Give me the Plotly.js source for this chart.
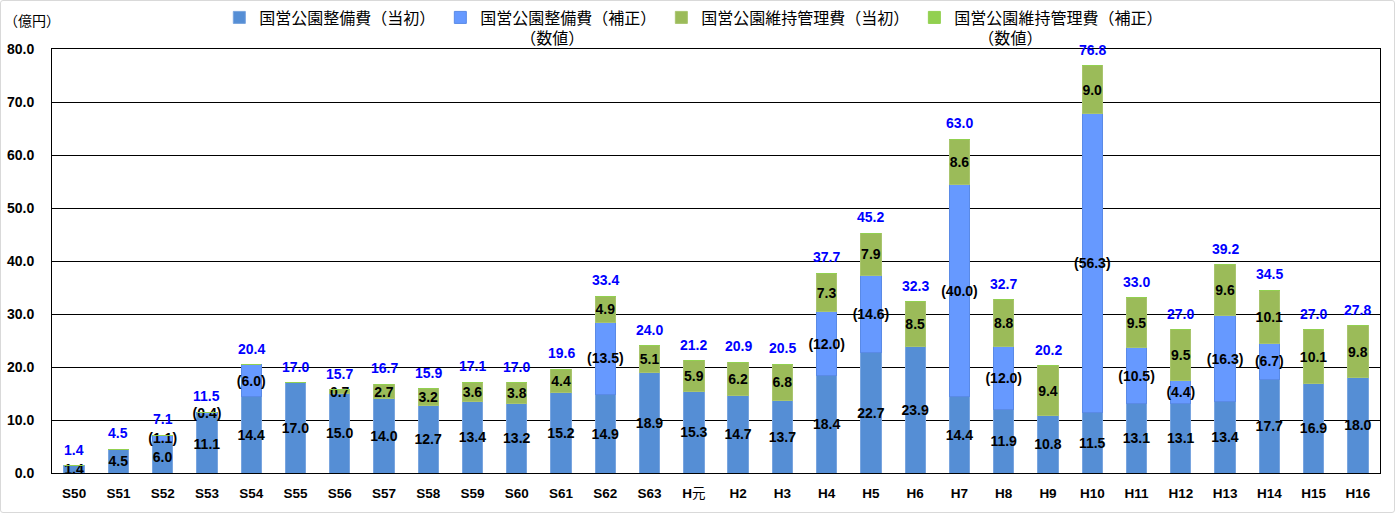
<!DOCTYPE html>
<html><head><meta charset="utf-8">
<script src="https://cdn.plot.ly/plotly-3.0.1.min.js"></script>
<style>
html,body{margin:0;padding:0;background:#fff}
#wrap{position:relative;width:1395px;height:513px}
#chart{width:1395px;height:513px}
#frame{position:absolute;left:0;top:0;width:1393px;height:511px;border:1px solid #d9d9d9;border-radius:3px;pointer-events:none}
</style>
</head><body><div id="wrap"><div id="chart"></div><div id="frame"></div></div>
<script>
const categories = ['S50','S51','S52','S53','S54','S55','S56','S57','S58','S59','S60','S61','S62','S63','H元','H2','H3','H4','H5','H6','H7','H8','H9','H10','H11','H12','H13','H14','H15','H16'];
const tickLabels = ['S50','S51','S52','S53','S54','S55','S56','S57','S58','S59','S60','S61','S62','S63','H<span style="font-weight:normal;font-family:Noto Sans CJK JP">元</span>','H2','H3','H4','H5','H6','H7','H8','H9','H10','H11','H12','H13','H14','H15','H16'];
const seibiInitial = [1.4,4.5,6.0,11.1,14.4,17.0,15.0,14.0,12.7,13.4,13.2,15.2,14.9,18.9,15.3,14.7,13.7,18.4,22.7,23.9,14.4,11.9,10.8,11.5,13.1,13.1,13.4,17.7,16.9,18.0];
const seibiSupplement = [0,0,1.1,0.4,6.0,0,0,0,0,0,0,0,13.5,0,0,0,0,12.0,14.6,0,40.0,12.0,0,56.3,10.5,4.4,16.3,6.7,0,0];
const ijiInitial = [0,0,0,0,0,0,0.7,2.7,3.2,3.6,3.8,4.4,4.9,5.1,5.9,6.2,6.8,7.3,7.9,8.5,8.6,8.8,9.4,9.0,9.5,9.5,9.6,10.1,10.1,9.8];
const ijiSupplement = [0,0,0,0,0,0,0,0,0,0,0,0,0,0,0,0,0,0,0,0,0,0,0,0,0,0,0,0,0,0];
const totals = [1.4,4.5,7.1,11.5,20.4,17.0,15.7,16.7,15.9,17.1,17.0,19.6,33.4,24.0,21.2,20.9,20.5,37.7,45.2,32.3,63.0,32.7,20.2,76.8,33.0,27.0,39.2,34.5,27.0,27.8];
const seriesNames = ['国営公園整備費（当初）','国営公園整備費（補正）<br>　　　（数値）','国営公園維持管理費（当初）','国営公園維持管理費（補正）<br>　　（数値）'];
const unitLabel = '（億円）';

const numFont = 'Liberation Sans, Arial, sans-serif';
const lblFont = {family: numFont, size: 14, color: '#000', weight: 'bold'};

function mk(vals, name, color, lineColor, fmt) {
  return {
    type: 'bar', x: categories, y: vals, name: name,
    marker: {color: color, line: {color: lineColor, width: 1}},
    text: vals.map(v => v > 0 ? fmt(v) : ''),
    texttemplate: '%{text}',
    textposition: 'inside', insidetextanchor: 'middle', textangle: 0,
    constraintext: 'none', cliponaxis: false,
    textfont: lblFont, insidetextfont: lblFont,
    hoverinfo: 'x+y'
  };
}
const data = [
  mk(seibiInitial, seriesNames[0], '#558ed5', '#79a5df', v => v.toFixed(1)),
  mk(seibiSupplement, seriesNames[1], '#6699ff', '#5a8ae6', v => '(' + v.toFixed(1) + ')'),
  mk(ijiInitial, seriesNames[2], '#9bbb59', '#a9c56e', v => v.toFixed(1)),
  mk(ijiSupplement, seriesNames[3], '#92d050', '#92d050', v => v.toFixed(1))
];

const annotations = categories.map((c, i) => ({
  x: c, y: totals[i], xref: 'x', yref: 'y', text: totals[i].toFixed(1),
  showarrow: false, yanchor: 'bottom', yshift: 6,
  font: {family: numFont, size: 14, color: '#0000ff', weight: 'bold'}
}));
annotations.push({
  xref: 'paper', yref: 'paper', x: -0.0376, y: 1.069, xanchor: 'left', yanchor: 'middle',
  text: unitLabel, showarrow: false,
  font: {family: 'Noto Sans CJK JP', size: 14, color: '#000'}
});

const layout = {
  width: 1395, height: 513,
  margin: {l: 52, r: 15, t: 49, b: 40, pad: 0, autoexpand: false},
  paper_bgcolor: '#fff', plot_bgcolor: '#fff',
  barmode: 'stack', bargap: 0.54,
  showlegend: true,
  legend: {orientation: 'h', x: 0.126, xanchor: 'left', yref: 'container', y: 0.999, yanchor: 'top',
    traceorder: 'normal', valign: 'top', bgcolor: 'rgba(0,0,0,0)',
    font: {family: 'Noto Sans CJK JP', size: 16, color: '#000'}},
  uniformtext: {minsize: 14, mode: 'show'},
  xaxis: {tickvals: categories, ticktext: tickLabels, showgrid: false,
    showline: true, linecolor: '#000', linewidth: 1, mirror: true,
    ticks: '', ticklabelstandoff: 8, automargin: false,
    tickfont: {family: numFont, size: 13.5, color: '#000', weight: 'bold'}},
  yaxis: {range: [0, 80], dtick: 10, tickformat: '.1f', showgrid: true, gridcolor: '#000', gridwidth: 1,
    showline: true, linecolor: '#000', linewidth: 1, mirror: true, zeroline: false,
    ticks: '', ticklabelstandoff: 14, automargin: false,
    tickfont: {family: numFont, size: 14, color: '#000', weight: 'bold'}},
  annotations: annotations
};
Plotly.newPlot('chart', data, layout, {displayModeBar: false, staticPlot: true});
</script>
</body></html>
